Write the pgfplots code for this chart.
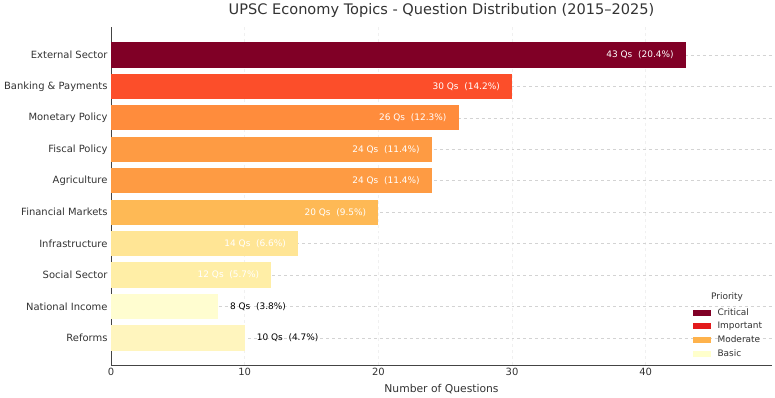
\documentclass[border=0pt]{standalone}
\usepackage{pgfplots}
\pgfplotsset{compat=1.18}
\usepackage{fontspec}
\setmainfont{DejaVu Sans}
\definecolor{cExt}{HTML}{800026}
\definecolor{cBank}{HTML}{FC4E2A}
\definecolor{cMon}{HTML}{FF8C3C}
\definecolor{cFis}{HTML}{FE9B43}
\definecolor{cFin}{HTML}{FEB955}
\definecolor{cInf}{HTML}{FFE595}
\definecolor{cSoc}{HTML}{FFEEA6}
\definecolor{cNat}{HTML}{FFFDD0}
\definecolor{cRef}{HTML}{FFF5BE}
\definecolor{lCrit}{HTML}{800026}
\definecolor{lImp}{HTML}{E31A1C}
\definecolor{lMod}{HTML}{FEB24C}
\definecolor{lBas}{HTML}{FFFFCC}
\definecolor{txtgray}{HTML}{333333}
\definecolor{axisgray}{HTML}{444444}
\definecolor{gridx}{HTML}{F0F0F0}
\definecolor{gridy}{HTML}{D3D3D3}
\pgfplotsset{
  onebar/.style={xbar, bar shift=0pt, bar width=0.8, draw=none, fill=#1, forget plot},
  inlab/.style={nodes near coords, point meta=explicit symbolic,
    every node near coord/.append style={anchor=east, xshift=-12bp, inner sep=0pt, text=white, font=\fontsize{9}{10}\selectfont}},
  outlab/.style={nodes near coords, point meta=explicit symbolic,
    every node near coord/.append style={anchor=west, xshift=12bp, inner sep=0pt, text=black, font=\fontsize{9}{10}\selectfont}},
}
\begin{document}
\begin{tikzpicture}
\begin{axis}[
  at={(0,0)}, anchor=south west,
  scale only axis, width=661bp, height=338bp,
  xmin=0, xmax=49.45, ymin=-0.86, ymax=9.89,
  clip=false,
  axis x line*=bottom, axis y line*=left,
  axis line style={draw=axisgray, line width=0.8bp, -},
  xtick={0,10,20,30,40},
  ytick={0,1,2,3,4,5,6,7,8,9},
  yticklabels={Reforms, National Income, Social Sector, Infrastructure, Financial Markets, Agriculture, Fiscal Policy, Monetary Policy, Banking \& Payments, External Sector},
  major tick length=0pt,
  tick label style={font=\fontsize{10}{12}\selectfont, text=txtgray},
  /pgf/number format/assume math mode=true,
  xmajorgrids, ymajorgrids,
  x grid style={dashed, gridx, line width=0.5bp},
  y grid style={dashed, gridy, line width=0.6bp},
  legend style={at={(rel axis cs:0.878,0.012)}, anchor=south west, draw=none, fill=none, font=\fontsize{9}{10}\selectfont, text=txtgray, row sep=1.5bp, inner sep=1bp,
    nodes={inner xsep=1bp}},
  legend cell align=left,
  legend image code/.code={\fill[#1, draw=none] (0bp,-3bp) rectangle (18bp,3bp); \path[draw=none, fill=none] (18bp,0bp) -- (24bp,0bp);},
]
\addplot[onebar=cRef, outlab] coordinates {(10,0) [10~Qs~~(4.7\%)]};
\addplot[onebar=cNat, outlab] coordinates {(8,1) [8~Qs~~(3.8\%)]};
\addplot[onebar=cSoc, inlab] coordinates {(12,2) [12~Qs~~(5.7\%)]};
\addplot[onebar=cInf, inlab] coordinates {(14,3) [14~Qs~~(6.6\%)]};
\addplot[onebar=cFin, inlab] coordinates {(20,4) [20~Qs~~(9.5\%)]};
\addplot[onebar=cFis, inlab] coordinates {(24,5) [24~Qs~~(11.4\%)]};
\addplot[onebar=cFis, inlab] coordinates {(24,6) [24~Qs~~(11.4\%)]};
\addplot[onebar=cMon, inlab] coordinates {(26,7) [26~Qs~~(12.3\%)]};
\addplot[onebar=cBank, inlab] coordinates {(30,8) [30~Qs~~(14.2\%)]};
\addplot[onebar=cExt, inlab] coordinates {(43,9) [43~Qs~~(20.4\%)]};
\addlegendimage{fill=lCrit}\addlegendentry{Critical}
\addlegendimage{fill=lImp}\addlegendentry{Important}
\addlegendimage{fill=lMod}\addlegendentry{Moderate}
\addlegendimage{fill=lBas}\addlegendentry{Basic}
\node[font=\fontsize{9}{10}\selectfont, text=txtgray] at (rel axis cs:0.932,0.201) {Priority};
\node[font=\fontsize{14.6}{16}\selectfont, text=txtgray] at (rel axis cs:0.5,1.05) {UPSC Economy Topics - Question Distribution (2015–2025)};
\node[font=\fontsize{10.8}{12}\selectfont, text=txtgray] at (rel axis cs:0.5,-0.071) {Number of Questions};
\end{axis}
\pgfresetboundingbox
\path[use as bounding box] (-111bp,-33bp) rectangle (664bp,365bp);
\end{tikzpicture}
\end{document}
